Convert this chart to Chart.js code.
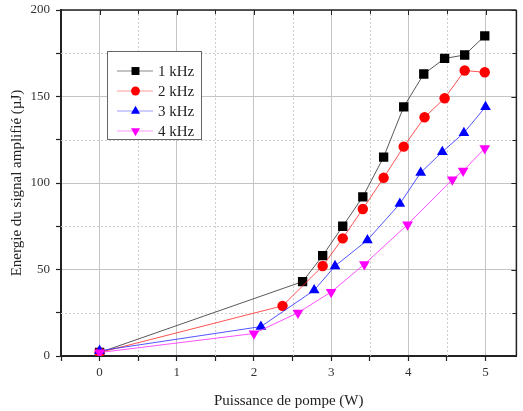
<!DOCTYPE html>
<html><head><meta charset="utf-8">
<script src="https://cdn.jsdelivr.net/npm/chart.js@4"></script>
<style>html,body{margin:0;padding:0;background:#fff}#wrap{width:523px;height:411px}</style>
</head><body><div id="wrap"><canvas id="c" width="523" height="411"></canvas></div>
<script>
const seriesLabels = ['1 kHz', '2 kHz', '3 kHz', '4 kHz'];
const x1 = [0, 2.63, 2.89, 3.15, 3.41, 3.68, 3.94, 4.20, 4.47, 4.73, 4.99];
const y1 = [2, 43, 58, 75, 92, 115, 144, 163, 172, 174, 185];
const x2 = [0, 2.37, 2.89, 3.15, 3.41, 3.68, 3.94, 4.21, 4.47, 4.73, 4.99];
const y2 = [2, 29, 52, 68, 85, 103, 121, 138, 149, 165, 164];
const x3 = [0, 2.09, 2.78, 3.05, 3.47, 3.89, 4.16, 4.44, 4.72, 5.00];
const y3 = [3, 17, 38, 52, 67, 88, 106, 118, 129, 144];
const x4 = [0, 2.00, 2.57, 3.00, 3.43, 3.99, 4.57, 4.71, 4.99];
const y4 = [2, 13, 25, 37, 53, 76, 102, 107, 120];
const xTicks = [0, 1, 2, 3, 4, 5];
const yTicks = [0, 50, 100, 150, 200];
const xTitle = 'Puissance de pompe (W)';
const yTitle = 'Energie du signal amplifié (µJ)';

const FONT = "'Liberation Serif', 'DejaVu Serif', serif";
const pts = (xs, ys) => xs.map((x, i) => ({x: x, y: ys[i]}));

const styles = [
  {line: 'rgba(60,60,60,0.85)', pt: '#000000', legendLine: '#8a8a8a', style: 'rect', r: 6.6, rot: 0},
  {line: 'rgba(255,40,40,0.8)', pt: '#ff0000', legendLine: '#ff9a9a', style: 'circle', r: 5.2, rot: 0},
  {line: 'rgba(40,40,255,0.8)', pt: '#0000ff', legendLine: '#9a9aff', style: 'triangle', r: 6.2, rot: 0},
  {line: 'rgba(255,40,255,0.8)', pt: '#ff00ff', legendLine: '#ff9aff', style: 'triangle', r: 6.2, rot: 180}
];
const seriesData = [pts(x1, y1), pts(x2, y2), pts(x3, y3), pts(x4, y4)];

const datasets = seriesData.map((d, i) => ({
  label: seriesLabels[i],
  data: d,
  borderColor: styles[i].line,
  borderWidth: 1,
  backgroundColor: styles[i].pt,
  pointBackgroundColor: styles[i].pt,
  pointBorderColor: styles[i].pt,
  pointBorderWidth: 0,
  pointStyle: styles[i].style,
  pointRadius: styles[i].r,
  pointRotation: styles[i].rot,
  showLine: true,
  tension: 0,
  order: 4 - i
}));

const isMajor = (v, list) => list.some(t => Math.abs(t - v) < 1e-6);

const minorGrid = {
  id: 'minorGrid',
  beforeDatasetsDraw(chart) {
    const ctx = chart.ctx, a = chart.chartArea, xs = chart.scales.x, ys = chart.scales.y;
    ctx.save();
    ctx.strokeStyle = '#cfcfcf';
    ctx.lineWidth = 1;
    ctx.setLineDash([2, 2]);
    ctx.beginPath();
    xs.ticks.forEach(t => {
      if (!isMajor(t.value, xTicks) && t.value > -0.5 + 1e-6) {
        const px = Math.round(xs.getPixelForValue(t.value)) + 0.5;
        ctx.moveTo(px, a.top); ctx.lineTo(px, a.bottom);
      }
    });
    ys.ticks.forEach(t => {
      if (!isMajor(t.value, yTicks)) {
        const py = Math.round(ys.getPixelForValue(t.value)) + 0.5;
        ctx.moveTo(a.left, py); ctx.lineTo(a.right, py);
      }
    });
    ctx.stroke();
    ctx.restore();
  }
};

const frameTicks = {
  id: 'frameTicks',
  afterDraw(chart) {
    const ctx = chart.ctx, a = chart.chartArea, xs = chart.scales.x, ys = chart.scales.y;
    ctx.save();
    ctx.strokeStyle = '#222';
    ctx.lineWidth = 1.5;
    ctx.beginPath();
    ctx.moveTo(a.left, a.top); ctx.lineTo(a.right, a.top);
    ctx.moveTo(a.right, a.top); ctx.lineTo(a.right, a.bottom);
    ctx.stroke();
    ctx.lineWidth = 1;
    ctx.beginPath();
    xs.ticks.forEach(t => {
      const px = Math.round(xs.getPixelForValue(t.value)) + 0.5;
      const len = isMajor(t.value, xTicks) ? 5 : 4;
      ctx.moveTo(px, a.top); ctx.lineTo(px, a.top + len);
    });
    ys.ticks.forEach(t => {
      const py = Math.round(ys.getPixelForValue(t.value)) + 0.5;
      const len = isMajor(t.value, yTicks) ? 5 : 4;
      ctx.moveTo(a.right, py); ctx.lineTo(a.right - len, py);
    });
    ctx.stroke();
    ctx.restore();
  }
};

const boxLegend = {
  id: 'boxLegend',
  afterDraw(chart) {
    const ctx = chart.ctx;
    ctx.save();
    const bx = 107.5, by = 51.5, bw = 94, bh = 88;
    ctx.fillStyle = '#fff';
    ctx.fillRect(bx, by, bw, bh);
    ctx.strokeStyle = '#666';
    ctx.lineWidth = 1;
    ctx.strokeRect(bx, by, bw, bh);
    seriesLabels.forEach((lab, i) => {
      const yy = 71 + i * 20;
      ctx.strokeStyle = styles[i].legendLine;
      ctx.lineWidth = 1.2;
      ctx.beginPath(); ctx.moveTo(117, yy); ctx.lineTo(153, yy); ctx.stroke();
      ctx.fillStyle = styles[i].pt;
      Chart.helpers.drawPoint(ctx, {pointStyle: styles[i].style, radius: styles[i].r * 0.85, rotation: styles[i].rot, borderWidth: 0}, 135.5, yy);
      ctx.fillStyle = '#222';
      ctx.font = "15px " + FONT;
      ctx.textBaseline = 'middle';
      ctx.textAlign = 'left';
      ctx.fillText(lab, 158, yy + 1);
    });
    ctx.restore();
  }
};

new Chart(document.getElementById('c'), {
  type: 'scatter',
  data: {datasets: datasets},
  options: {
    responsive: false,
    animation: false,
    devicePixelRatio: 1,
    layout: {padding: {top: 10, right: 4, left: 0, bottom: 0}},
    plugins: {legend: {display: false}, tooltip: {enabled: false}},
    scales: {
      x: {
        type: 'linear', min: -0.5, max: 5.4,
        afterFit: s => { s.height = 55; s.paddingLeft = 0; s.paddingRight = 0; },
        ticks: {
          stepSize: 0.5, includeBounds: false, autoSkip: false, maxRotation: 0, padding: 4,
          color: '#333', font: {family: FONT, size: 13},
          callback: v => isMajor(v, xTicks) ? String(Math.round(v)) : ''
        },
        grid: {
          color: c => (c.tick && isMajor(c.tick.value, xTicks)) ? '#c4c4c4' : 'rgba(0,0,0,0)',
          lineWidth: 1, tickLength: 5, tickColor: '#222', tickWidth: 1.2
        },
        border: {display: true, color: '#222', width: 2},
        title: {display: true, text: xTitle, color: '#222', font: {family: FONT, size: 15}, padding: {top: 10, bottom: 1}}
      },
      y: {
        type: 'linear', min: 0, max: 200,
        afterFit: s => { s.width = 61; s.paddingTop = 0; s.paddingBottom = 0; },
        ticks: {
          stepSize: 25, autoSkip: false, padding: 6,
          color: '#333', font: {family: FONT, size: 13},
          callback: v => isMajor(v, yTicks) ? String(v) : ''
        },
        grid: {
          color: c => (c.tick && isMajor(c.tick.value, yTicks)) ? '#c4c4c4' : 'rgba(0,0,0,0)',
          lineWidth: 1, tickLength: 5, tickColor: '#222', tickWidth: 1.2
        },
        border: {display: true, color: '#222', width: 2},
        title: {display: true, text: yTitle, color: '#222', font: {family: FONT, size: 15}, padding: {top: 8, bottom: 0}}
      }
    }
  },
  plugins: [minorGrid, frameTicks, boxLegend]
});
</script>
</body></html>
